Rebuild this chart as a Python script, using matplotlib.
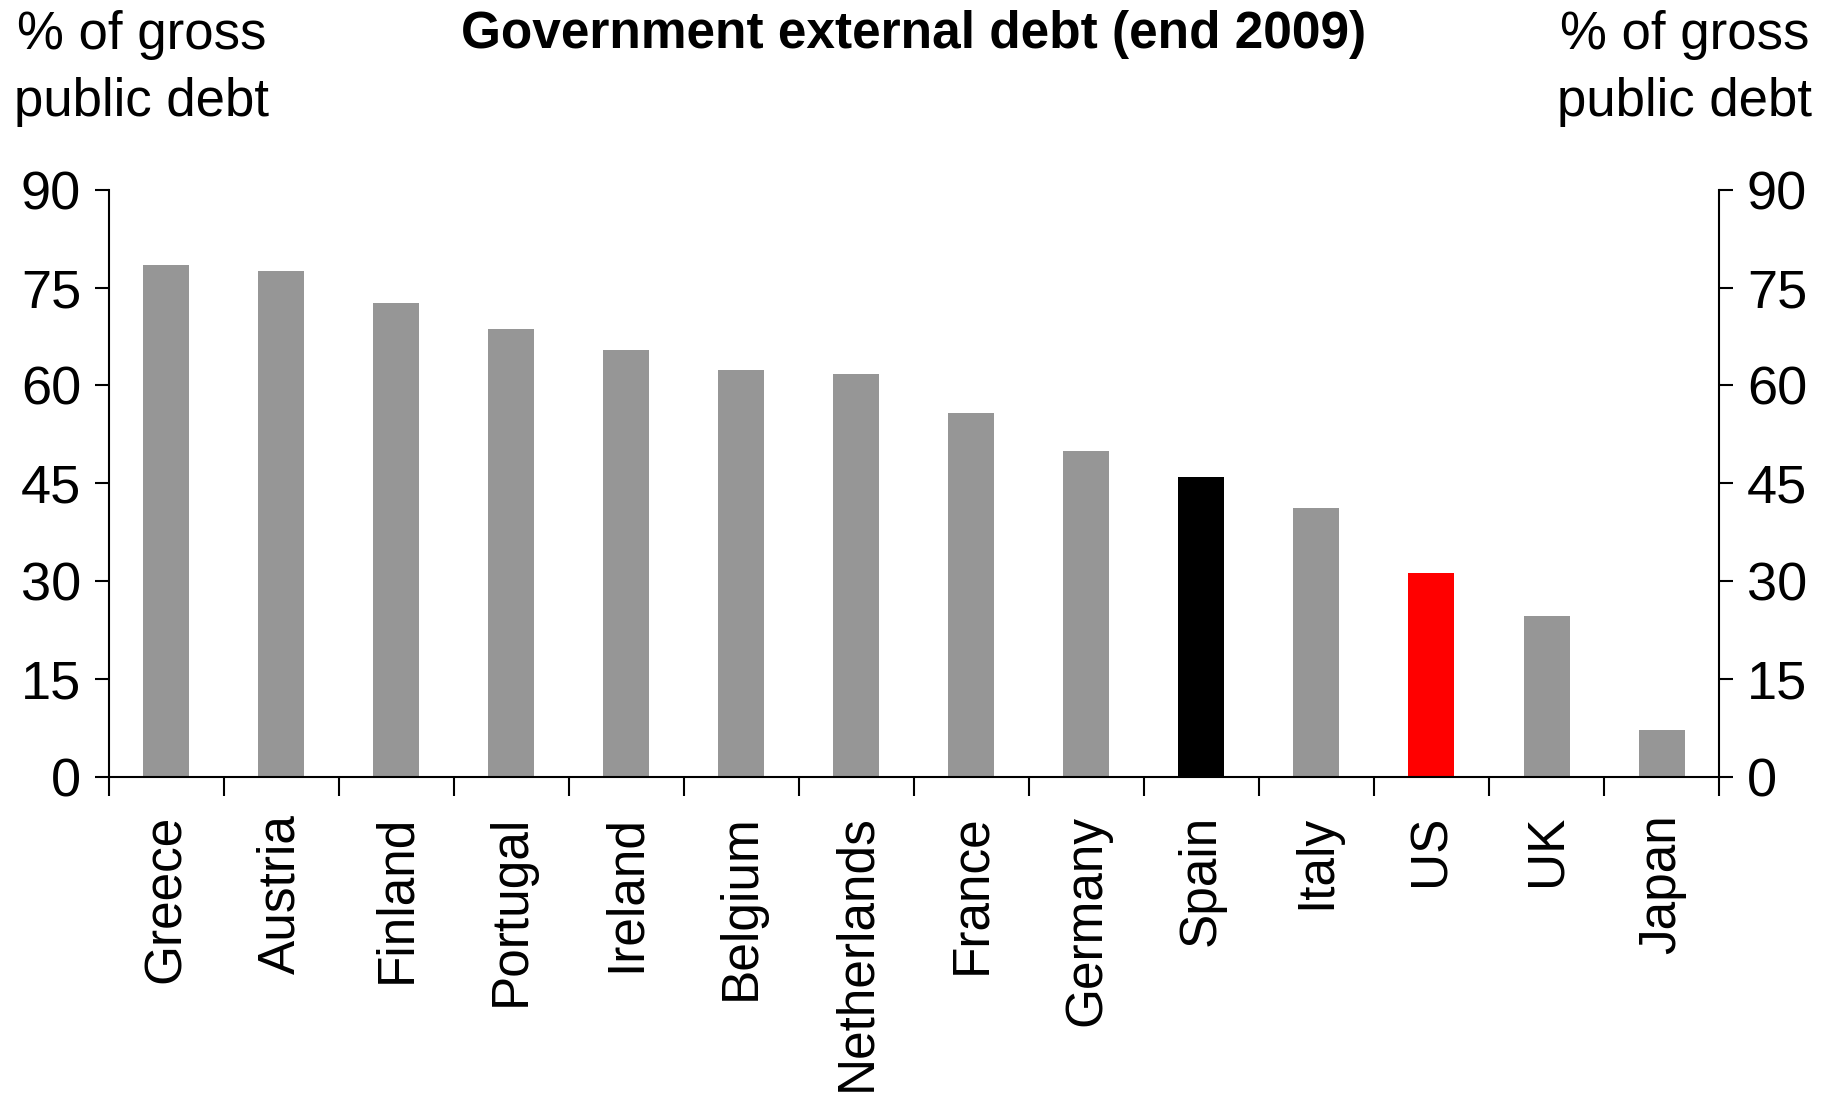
import matplotlib
matplotlib.use("Agg")
import matplotlib.pyplot as plt
import numpy as np

plt.rcParams["font.family"] = ["Liberation Sans", "DejaVu Sans"]

countries = ["Greece", "Austria", "Finland", "Portugal", "Ireland", "Belgium",
             "Netherlands", "France", "Germany", "Spain", "Italy", "US", "UK", "Japan"]
external_debt = [78.4, 77.6, 72.6, 68.7, 65.4, 62.4, 61.8, 55.8, 50.0, 45.9, 41.2, 31.2, 24.6, 7.2]
highlight = {"Spain": "#000000", "US": "#ff0000"}
y_ticks = [0, 15, 30, 45, 60, 75, 90]

GREY = "#969696"

fig = plt.figure(figsize=(18.35, 10.98), dpi=100)
ax = fig.add_axes([0.0593, 0.2923, 0.8775, 0.535])

x = np.arange(len(countries))
colors = [highlight.get(c, GREY) for c in countries]
ax.bar(x, external_debt, width=0.4, color=colors, zorder=2)

ax.set_xlim(-0.5, len(countries) - 0.5)
ax.set_ylim(0, 90)
ax.set_yticks(y_ticks)
ax.set_yticklabels([str(t) for t in y_ticks])

# country names centred under bars, tick marks between categories
ax.set_xticks(x)
ax.set_xticklabels(countries, rotation=90, fontsize=37)
ax.set_xticks(np.arange(len(countries) + 1) - 0.5, minor=True)
ax.tick_params(axis="x", which="major", length=0, pad=27)
ax.tick_params(axis="x", which="minor", length=14, width=1.5, direction="out")
ax.tick_params(axis="y", which="major", length=10, width=1.5, direction="out",
               labelsize=39, left=True, right=True, labelleft=True, labelright=True, pad=10)

ax.spines["top"].set_visible(False)
for side in ["left", "right", "bottom"]:
    ax.spines[side].set_linewidth(1.5)

fig.text(0.498, 0.969, "Government external debt (end 2009)", ha="center", va="center",
         fontsize=37, fontweight="bold")
fig.text(0.077, 0.991, "% of gross\npublic debt", ha="center", va="top",
         multialignment="center", fontsize=38, linespacing=1.45)
fig.text(0.918, 0.991, "% of gross\npublic debt", ha="center", va="top",
         multialignment="center", fontsize=38, linespacing=1.45)

fig.savefig("out.png", dpi=100)
